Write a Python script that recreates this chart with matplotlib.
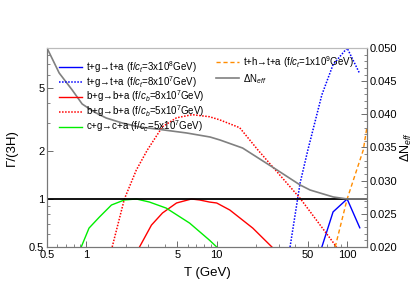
import numpy as np
import matplotlib
matplotlib.use("Agg")
import matplotlib.pyplot as plt
from matplotlib.ticker import FixedLocator, NullFormatter, MultipleLocator, FormatStrFormatter

plt.rcParams['font.family'] = ['Liberation Sans', 'DejaVu Sans']
plt.rcParams['mathtext.fontset'] = 'custom'
plt.rcParams['mathtext.rm'] = 'Liberation Sans'
plt.rcParams['mathtext.it'] = 'Liberation Sans:italic'
plt.rcParams['font.size'] = 8

# t+g -> t+a, f/c_t = 3e8 GeV
T_tg1 = [64, 78, 100, 125]
G_tg1 = [0.5, 0.83, 1.0, 0.66]
# t+g -> t+a, f/c_t = 8e7 GeV
T_tg2 = [36.5, 43.6, 50, 64, 78, 100, 125]
G_tg2 = [0.5, 1.26, 2.03, 4.5, 6.96, 8.85, 6.1]
# b+g -> b+a, f/c_b = 8e7 GeV
T_bg1 = [2.56, 3.16, 3.84, 4.92, 6.4, 7.4, 8.8, 10, 12.6, 18.9, 26.5]
G_bg1 = [0.5, 0.686, 0.817, 0.944, 1.0, 0.986, 0.957, 0.944, 0.853, 0.657, 0.5]
# b+g -> b+a, f/c_b = 5e7 GeV
T_bg2 = [1.58, 1.96, 2.42, 2.94, 3.84, 4.92, 6.5, 8.8, 10.5, 15, 20.7, 43.6, 83]
G_bg2 = [0.5, 1.0, 1.52, 2.03, 2.84, 3.23, 3.38, 3.28, 3.14, 2.80, 2.03, 1.01, 0.5]
# c+g -> c+a, f/c_c = 5e7 GeV
T_cg = [0.915, 1.05, 1.26, 1.56, 1.96, 2.42, 3.05, 4.1, 6.2, 8.8, 10]
G_cg = [0.5, 0.657, 0.77, 0.917, 0.986, 1.0, 0.957, 0.877, 0.706, 0.552, 0.5]
# t+h -> t+a, f/c_t = 1e9 GeV
T_th = [81, 100, 133, 142]
G_th = [0.5, 1.0, 2.03, 2.84]
# Delta N_eff (right axis)
T_dn = [0.5, 0.62, 0.78, 0.93, 1.15, 1.42, 1.89, 2.56, 3.45, 5.88, 8.9, 10.6,
        15.8, 29.0, 43.6, 52.0, 78.3, 100, 142]
dN = [0.0500, 0.04623, 0.04367, 0.04156, 0.04035, 0.03945, 0.03869, 0.03809,
      0.03779, 0.03719, 0.03658, 0.03613, 0.03492, 0.03161, 0.02935, 0.02859,
      0.02754, 0.02724, 0.02724]

fig = plt.figure(figsize=(4.14, 2.96), dpi=100)
ax = fig.add_axes([47/414, 1-247/296, 320/414, 199/296])
ax2 = ax.twinx()

lw = 1.0
h1, = ax.plot(T_tg1, G_tg1, color='#0000ff', lw=lw)
h2, = ax.plot(T_tg2, G_tg2, color='#0000ff', lw=1.1, ls=(0, (1, 1)))
h3, = ax.plot(T_bg1, G_bg1, color='#ff0000', lw=lw)
h4, = ax.plot(T_bg2, G_bg2, color='#ff0000', lw=1.1, ls=(0, (1, 1)))
h5, = ax.plot(T_cg, G_cg, color='#00ee00', lw=lw)
h6, = ax.plot(T_th, G_th, color='#ff8c00', lw=lw, ls=(0, (3, 2)))
ax.axhline(1.0, color='black', lw=1.3)
h7, = ax2.plot(T_dn, dN, color='#808080', lw=1.2)

ax.set_xscale('log')
ax.set_yscale('log')
ax.set_xlim(0.5, 142)
ax.set_ylim(0.5, 8.85)
ax2.set_ylim(0.020, 0.050)

ax.xaxis.set_major_locator(FixedLocator([0.5, 1, 5, 10, 50, 100]))
ax.xaxis.set_minor_locator(FixedLocator([0.6, 0.7, 0.8, 0.9, 2, 3, 4, 6, 7, 8, 9,
                                         20, 30, 40, 60, 70, 80, 90]))
ax.set_xticklabels(['0.5', '1', '5', '10', '50', '100'])
ax.xaxis.set_minor_formatter(NullFormatter())
ax.yaxis.set_major_locator(FixedLocator([0.5, 1, 2, 5]))
ax.yaxis.set_minor_locator(FixedLocator([0.6, 0.7, 0.8, 0.9, 3, 4, 6, 7, 8]))
ax.set_yticklabels(['0.5', '1', '2', '5'])
ax.yaxis.set_minor_formatter(NullFormatter())
ax2.yaxis.set_major_locator(MultipleLocator(0.005))
ax2.yaxis.set_minor_locator(MultipleLocator(0.001))
ax2.yaxis.set_major_formatter(FormatStrFormatter('%.3f'))

for a in (ax, ax2):
    a.tick_params(which='both', direction='in', color='#555555', pad=2,
                  labelsize=8)
    a.tick_params(which='major', length=4, width=0.6)
    a.tick_params(which='minor', length=2, width=0.5)
    for s in a.spines.values():
        s.set_color('#777777')
        s.set_linewidth(0.8)
    a.spines['top'].set_color('#bbbbbb')
ax.tick_params(axis='y', right=False)
ax.tick_params(axis='x', top=False)

ax.set_xlabel('T (GeV)', fontsize=9.5, labelpad=5)
ax.set_ylabel('Γ/(3H)', fontsize=9.5, labelpad=8)
ax2.set_ylabel(r'ΔN$_{eff}$', fontsize=9, labelpad=1)

leg1 = ax2.legend([h1, h2, h3, h4, h5],
                  [r't+g→t+a (f/$c_t$=3x10$^8$GeV)',
                   r't+g→t+a (f/$c_t$=8x10$^7$GeV)',
                   r'b+g→b+a (f/$c_b$=8x10$^7$GeV)',
                   r'b+g→b+a (f/$c_b$=5x10$^7$GeV)',
                   r'c+g→c+a (f/$c_c$=5x10$^7$GeV)'],
                  loc='upper left', bbox_to_anchor=(59/414, 1-59/296),
                  bbox_transform=fig.transFigure, frameon=False, fontsize=7,
                  handlelength=2.4, handletextpad=0.4, labelspacing=-0.1,
                  borderpad=0, borderaxespad=0)
ax2.add_artist(leg1)
ax2.legend([h6, h7], [r't+h→t+a (f/$c_t$=1x10$^9$GeV)', r'ΔN$_{eff}$'],
           loc='upper left', bbox_to_anchor=(216/414, 1-54/296),
           bbox_transform=fig.transFigure, frameon=False, fontsize=7,
           handlelength=2.4, handletextpad=0.4, labelspacing=0.2,
           borderpad=0, borderaxespad=0)

fig.savefig('out.png', dpi=100)
